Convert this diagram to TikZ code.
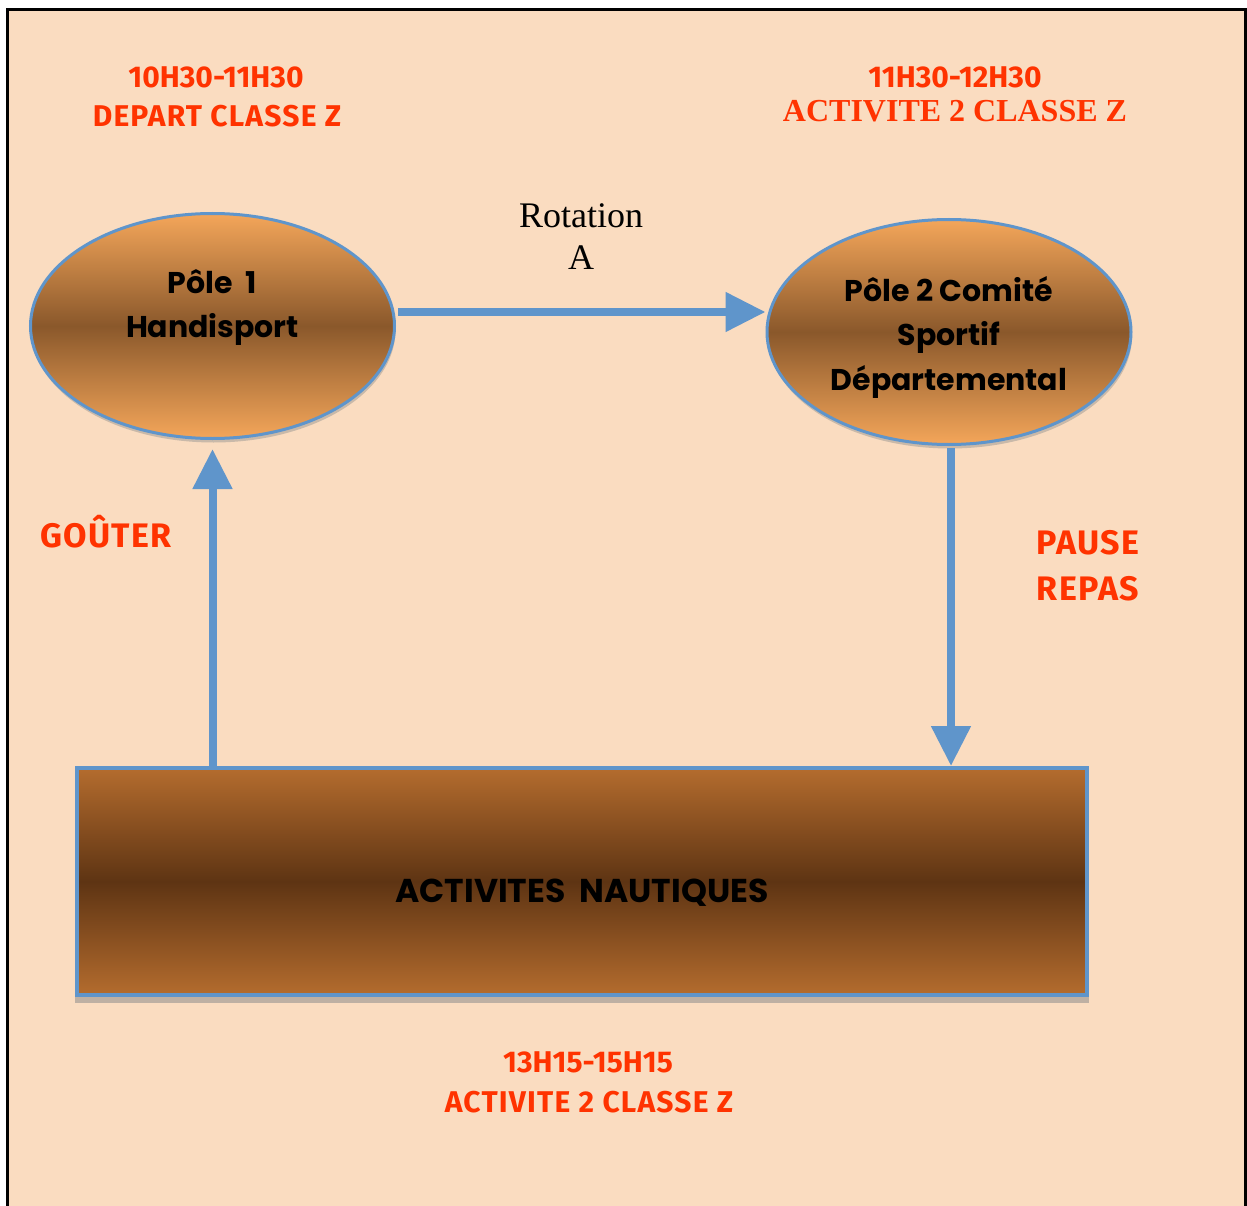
\documentclass[tikz,border=0pt]{standalone}
\usepackage{fontspec}
\usetikzlibrary{shapes.geometric,arrows.meta,shadows}
\newfontfamily\pixfont{Fira Sans}[LetterSpace=4]
\newfontfamily\pixfontn{Fira Sans}
\newfontfamily\comicfont{Poppins}
\newfontfamily\serifA{Liberation Serif}
\definecolor{bg}{HTML}{FADCC0}
\definecolor{redc}{HTML}{FF3300}
\definecolor{blueA}{HTML}{5F95CB}
\definecolor{orangeL}{HTML}{F4A65A}
\definecolor{brownM}{HTML}{8A582B}
\definecolor{rectL}{HTML}{B46C2E}
\definecolor{rectD}{HTML}{5E3413}
\definecolor{shadowc}{HTML}{C9B9A9}
\tikzset{
  pole/.style={ellipse, draw=blueA, line width=3pt, minimum width=364pt, minimum height=225pt,
    top color=orangeL, bottom color=orangeL, middle color=brownM, align=center, inner sep=0pt,
    font=\comicfont\bfseries\fontsize{30}{44.5}\selectfont,
    drop shadow={shadow xshift=1pt, shadow yshift=-4pt, fill=shadowc, opacity=1}},
  bigbox/.style={rectangle, draw=blueA, line width=4pt, minimum width=1010pt, minimum height=227pt,
    top color=rectL, bottom color=rectL, middle color=rectD, inner sep=0pt,
    font=\comicfont\bfseries\fontsize{33}{36}\selectfont},
  arr/.style={draw=blueA, line width=8pt, -{Triangle[length=40pt,width=38pt]}},
  pix/.style={text=redc, anchor=base, inner sep=0pt, font=\pixfont\bfseries\fontsize{30}{36}\selectfont},
  pixnum/.style={pix, font=\pixfontn\bfseries\fontsize{30}{36}\selectfont},
  pixbig/.style={pix, font=\pixfont\bfseries\fontsize{34}{40}\selectfont},
  serred/.style={text=redc, anchor=base, inner sep=0pt, font=\serifA\bfseries\fontsize{32}{38}\selectfont},
  serblk/.style={text=black, anchor=base, inner sep=0pt, font=\serifA\fontsize{36}{40}\selectfont}
}
\begin{document}
\begin{tikzpicture}[x=1pt,y=-1pt]
\useasboundingbox (0,0) rectangle (1247,1206);
\fill[white] (0,0) rectangle (1247,1206);
\fill[bg] (7,10) rectangle (1245,1206);
\draw[line width=3pt] (7,1212) -- (7,10) -- (1245,10) -- (1245,1212);

% texts
\node[pixnum] (t1a) at (216,88) {10H30-11H30};
\node[pix] (t1b) at (217,127) {DEPART CLASSE Z};
\node[pixnum] (t2a) at (955,88) {11H30-12H30};
\node[serred] (t2b) at (955,122) {ACTIVITE 2 CLASSE Z};
\node[serblk] (rot) at (581,228) {Rotation};
\node[serblk] (rotA) at (581,270) {A};
\node[pixbig] (gout) at (106,547) {GOÛTER};
\node[pixbig] (pause) at (1088,554) {PAUSE};
\node[pixbig] (repas) at (1088,600) {REPAS};
\node[pixnum] (t3a) at (588,1072) {13H15-15H15};
\node[pix] (t3b) at (589,1112) {ACTIVITE 2 CLASSE Z};

% shadow of box
\fill[shadowc!85!gray] (75,995) rectangle (1089,1003);

% nodes
\node[pole] (e1) at (212.5,326) {Pôle\ \ 1\\Handisport\\\mbox{}};
\node[pole] (e2) at (949,332) {\raisebox{-11pt}[0pt][0pt]{\begin{tabular}{@{}c@{}}Pôle\ 2\ Comité\\Sportif\\Départemental\end{tabular}}};
\node[bigbox] (r) at (582,881.5) {\raisebox{-21pt}[0pt][0pt]{ACTIVITES\ \ NAUTIQUES}};

% connectors
\draw[arr] ([xshift=2pt,yshift=14pt]e1.east) -- ([yshift=20pt]e2.west);
\draw[arr] ([xshift=2pt,yshift=-2pt]e2.south) -- ([xshift=2pt]e2.south |- r.north);
\draw[arr, shorten >=9pt] (e1.south |- r.north) -- (e1.south);
\end{tikzpicture}
\end{document}
